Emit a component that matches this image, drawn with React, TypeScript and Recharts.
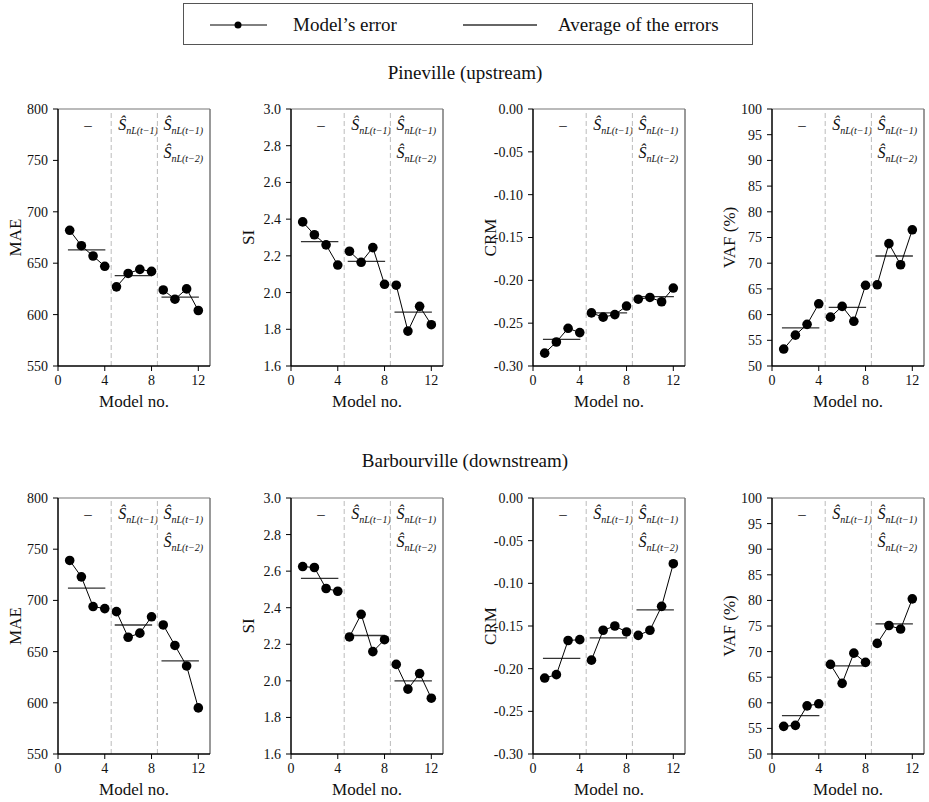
import React from 'react';
import { LineChart, Line, XAxis, YAxis, ReferenceLine } from 'recharts';

// model numbers 1..12, split in three input groups
const models = [1, 2, 3, 4, 5, 6, 7, 8, 9, 10, 11, 12];
const groupOf = [1, 1, 1, 1, 2, 2, 2, 2, 3, 3, 3, 3];
const groupSpans = [
  [0.85, 4.05],
  [4.85, 8.05],
  [8.85, 12.05],
];
const dividers = [4.55, 8.5];
const xTicks = [0, 4, 8, 12];

// Pineville (upstream)
const pinMAE = [682, 667, 657, 647, 627, 640, 644, 642, 624, 615, 625, 604];
const pinMAEAvg = [663, 638, 617];
const pinSI = [2.385, 2.315, 2.26, 2.15, 2.225, 2.165, 2.245, 2.045, 2.04, 1.79, 1.925, 1.825];
const pinSIAvg = [2.278, 2.17, 1.893];
const pinCRM = [-0.285, -0.272, -0.256, -0.261, -0.238, -0.243, -0.24, -0.23, -0.222, -0.22, -0.225, -0.209];
const pinCRMAvg = [-0.269, -0.238, -0.219];
const pinVAF = [53.3, 56.0, 58.1, 62.1, 59.5, 61.6, 58.7, 65.7, 65.8, 73.8, 69.7, 76.5];
const pinVAFAvg = [57.4, 61.4, 71.4];

// Barbourville (downstream)
const barMAE = [739, 723, 694, 692, 689, 664, 668, 684, 676, 656, 636, 595];
const barMAEAvg = [712, 676, 641];
const barSI = [2.625, 2.62, 2.505, 2.49, 2.24, 2.364, 2.16, 2.225, 2.09, 1.955, 2.04, 1.905];
const barSIAvg = [2.56, 2.248, 2.0];
const barCRM = [-0.211, -0.207, -0.167, -0.166, -0.19, -0.155, -0.15, -0.157, -0.161, -0.155, -0.127, -0.077];
const barCRMAvg = [-0.188, -0.164, -0.131];
const barVAF = [55.4, 55.6, 59.4, 59.8, 67.5, 63.8, 69.7, 67.9, 71.6, 75.1, 74.4, 80.3];
const barVAFAvg = [57.5, 67.2, 75.4];

const maeTicks = [550, 600, 650, 700, 750, 800];
const siTicks = [1.6, 1.8, 2.0, 2.2, 2.4, 2.6, 2.8, 3.0];
const crmTicks = [-0.3, -0.25, -0.2, -0.15, -0.1, -0.05, 0];
const vafTicks = [50, 55, 60, 65, 70, 75, 80, 85, 90, 95, 100];

const metrics = [
  { name: 'MAE', ticks: maeTicks, fmt: (v: number) => String(v) },
  { name: 'SI', ticks: siTicks, fmt: (v: number) => v.toFixed(1) },
  { name: 'CRM', ticks: crmTicks, fmt: (v: number) => v.toFixed(2) },
  { name: 'VAF (%)', ticks: vafTicks, fmt: (v: number) => String(v) },
];

const rows = [
  { title: 'Pineville (upstream)', top: 109, plotH: 257, titleY: 79, values: [pinMAE, pinSI, pinCRM, pinVAF], avgs: [pinMAEAvg, pinSIAvg, pinCRMAvg, pinVAFAvg] },
  { title: 'Barbourville (downstream)', top: 498, plotH: 256, titleY: 467, values: [barMAE, barSI, barCRM, barVAF], avgs: [barMAEAvg, barSIAvg, barCRMAvg, barVAFAvg] },
];

const axisLefts = [58, 291, 533, 772];
const YW = 55;
const PLOT_W = 152;
const FONT = '"Liberation Serif", "Times New Roman", serif';

function Snl({ x, y, lag }: { x: number; y: number; lag: string }) {
  return (
    <text x={x} y={y} fill="#111" fontFamily={FONT}>
      <tspan fontSize={16} fontStyle="italic">Ŝ</tspan>
      <tspan fontSize={10} fontStyle="italic" dy={4}>{`nL(t−${lag})`}</tspan>
    </text>
  );
}

function Panel({ metric, values, avgs, plotH }: { metric: (typeof metrics)[number]; values: number[]; avgs: number[]; plotH: number }) {
  const data = models.map((m, i) => ({
    model: m,
    g1: groupOf[i] === 1 ? values[i] : null,
    g2: groupOf[i] === 2 ? values[i] : null,
    g3: groupOf[i] === 3 ? values[i] : null,
  }));
  const lo = metric.ticks[0];
  const hi = metric.ticks[metric.ticks.length - 1];
  const dotStyle = { r: 4.8, fill: '#000', stroke: '#000', strokeWidth: 0 };

  return (
    <LineChart width={YW + PLOT_W + 6} height={10 + plotH + 48} data={data} margin={{ top: 10, right: 6, left: 0, bottom: 0 }}>
      <XAxis
        dataKey="model"
        type="number"
        domain={[0, 13]}
        ticks={xTicks}
        allowDataOverflow
        height={48}
        tickSize={5}
        tickMargin={4}
        axisLine={{ stroke: '#000', strokeWidth: 1.5 }}
        tickLine={{ stroke: '#000' }}
        tick={{ fill: '#111', fontSize: 14, fontFamily: FONT }}
        label={(p: any) => {
          const vb = p.viewBox || { x: YW, y: 10 + plotH, width: PLOT_W };
          return (
            <text x={vb.x + vb.width / 2} y={vb.y + 41} textAnchor="middle" fontSize={17} fill="#111" fontFamily={FONT}>
              Model no.
            </text>
          );
        }}
      />
      <YAxis
        type="number"
        domain={[lo, hi]}
        ticks={metric.ticks}
        allowDataOverflow
        width={YW}
        tickSize={5}
        tickMargin={5}
        tickFormatter={metric.fmt}
        axisLine={{ stroke: '#000', strokeWidth: 1.5 }}
        tickLine={{ stroke: '#000' }}
        tick={{ fill: '#111', fontSize: 14, fontFamily: FONT }}
        label={(p: any) => {
          const vb = p.viewBox || { x: 0, y: 10, height: plotH };
          const cx = 12;
          const cy = vb.y + vb.height / 2;
          return (
            <text x={cx} y={cy} transform={`rotate(-90, ${cx}, ${cy})`} textAnchor="middle" dominantBaseline="central" fontSize={17} fill="#111" fontFamily={FONT}>
              {metric.name}
            </text>
          );
        }}
      />
      <ReferenceLine y={hi} stroke="#777" strokeWidth={1.2} />
      <ReferenceLine x={13} stroke="#777" strokeWidth={1.5} />
      <ReferenceLine
        x={dividers[0]}
        stroke="#bbb"
        strokeDasharray="5 3"
        label={(p: any) => {
          const vb = p.viewBox || { x: 0, y: 0 };
          return (
            <g>
              <text x={vb.x - 27} y={vb.y + 21} fontSize={15} fill="#111" fontFamily={FONT}>–</text>
              <Snl x={vb.x + 7} y={vb.y + 21} lag="1" />
            </g>
          );
        }}
      />
      <ReferenceLine
        x={dividers[1]}
        stroke="#bbb"
        strokeDasharray="5 3"
        label={(p: any) => {
          const vb = p.viewBox || { x: 0, y: 0 };
          return (
            <g>
              <Snl x={vb.x + 6} y={vb.y + 21} lag="1" />
              <Snl x={vb.x + 6} y={vb.y + 49} lag="2" />
            </g>
          );
        }}
      />
      {avgs.map((a, i) => (
        <ReferenceLine
          key={i}
          segment={[
            { x: groupSpans[i][0], y: a },
            { x: groupSpans[i][1], y: a },
          ]}
          stroke="#333"
          strokeWidth={1.3}
        />
      ))}
      {['g1', 'g2', 'g3'].map((k) => (
        <Line
          key={k}
          type="linear"
          dataKey={k}
          stroke="#000"
          strokeWidth={1}
          dot={dotStyle}
          activeDot={false}
          connectNulls={false}
          isAnimationActive={false}
        />
      ))}
    </LineChart>
  );
}

export default function App() {
  return (
    <div style={{ position: 'absolute', left: 0, top: 0, width: 929, height: 802, background: '#fff', fontFamily: FONT, overflow: 'hidden' }}>
      <svg width={929} height={802} style={{ position: 'absolute', left: 0, top: 0 }}>
        <rect x={183.5} y={3.5} width={569} height={41} fill="none" stroke="#555" strokeWidth={1} />
        <line x1={210} y1={25} x2={267} y2={25} stroke="#000" strokeWidth={1} />
        <circle cx={238} cy={25} r={3.5} fill="#000" />
        <text x={293} y={31} fontSize={19} fill="#111" fontFamily={FONT}>Model’s error</text>
        <line x1={463} y1={25} x2={537} y2={25} stroke="#333" strokeWidth={1.3} />
        <text x={558} y={31} fontSize={19} fill="#111" fontFamily={FONT}>Average of the errors</text>
        {rows.map((r) => (
          <text key={r.title} x={465} y={r.titleY} textAnchor="middle" fontSize={19} fill="#111" fontFamily={FONT}>
            {r.title}
          </text>
        ))}
      </svg>
      {rows.map((r) =>
        metrics.map((m, j) => (
          <div key={r.title + m.name} style={{ position: 'absolute', left: axisLefts[j] - YW, top: r.top - 10 }}>
            <Panel metric={m} values={r.values[j]} avgs={r.avgs[j]} plotH={r.plotH} />
          </div>
        ))
      )}
    </div>
  );
}
